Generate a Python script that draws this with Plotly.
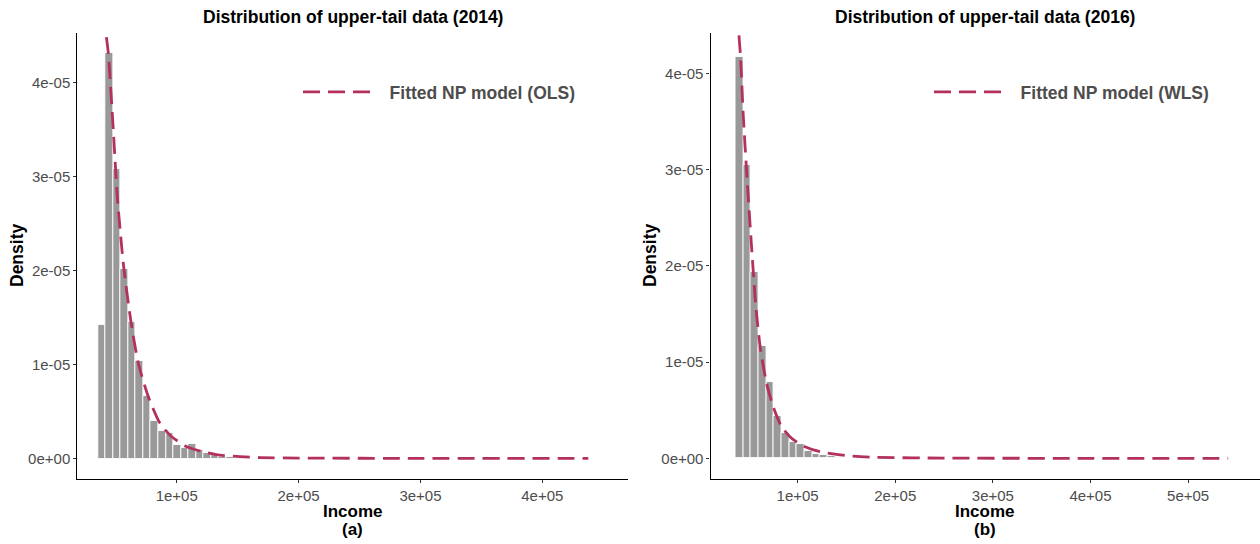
import plotly.graph_objects as go

# ---------------- data ----------------
# 2014 histogram (density, x1e-5), bins of equal width
bin_start_2014 = 35300
bin_width_2014 = 6200
dens_2014 = [1.424, 4.32, 3.078, 2.02, 1.456, 1.038, 0.665, 0.402, 0.293, 0.268,
             0.141, 0.109, 0.158, 0.087, 0.055, 0.040, 0.018, 0.012, 0.008, 0.005]

# 2016 histogram
bin_start_2016 = 36410
bin_width_2016 = 7840
dens_2016 = [4.166, 3.048, 1.934, 1.168, 0.798, 0.441, 0.268, 0.171, 0.151, 0.081,
             0.050, 0.039, 0.029, 0.015, 0.010, 0.006]

# fitted NP model curves
fit_x_2014 = [41300, 41990, 43870, 47980, 51260, 56180, 62250, 68490, 76700, 86300,
              95900, 108200, 121800, 135500, 151900, 168300, 200000, 300000, 437740]
fit_y_2014 = [4.75, 4.526, 4.319, 3.497, 2.787, 2.078, 1.475, 1.014, 0.658, 0.375,
              0.232, 0.126, 0.072, 0.037, 0.020, 0.010, 0.005, 0.0015, 0.0005]

fit_x_2016 = [39300, 39790, 41540, 44200, 48310, 52820, 57230, 62050, 68210, 74970,
              83590, 93850, 105700, 122900, 150300, 181000, 250000, 400000, 541030]
fit_y_2016 = [4.65, 4.415, 4.172, 3.585, 2.892, 2.199, 1.576, 1.127, 0.781, 0.538,
              0.330, 0.210, 0.130, 0.071, 0.029, 0.012, 0.004, 0.0015, 0.0005]

y_ticks = [0, 1e-5, 2e-5, 3e-5, 4e-5]
y_ticktext = ["0e+00", "1e-05", "2e-05", "3e-05", "4e-05"]
x_ticks_2014 = [1e5, 2e5, 3e5, 4e5]
x_ticktext_2014 = ["1e+05", "2e+05", "3e+05", "4e+05"]
x_ticks_2016 = [1e5, 2e5, 3e5, 4e5, 5e5]
x_ticktext_2016 = ["1e+05", "2e+05", "3e+05", "4e+05", "5e+05"]

# ---------------- styles ----------------
BAR = "#999999"
LINE = "#B3305F"
FONT = "Liberation Sans"
W, H = 1260, 544
NBSP = "\u00a0\u00a0\u00a0"


def centers(start, width, n):
    return [start + width * (i + 0.5) for i in range(n)]


fig = go.Figure()

fig.add_trace(go.Bar(
    x=centers(bin_start_2014, bin_width_2014, len(dens_2014)),
    y=[v * 1e-5 for v in dens_2014], width=bin_width_2014,
    marker=dict(color=BAR, line=dict(color="white", width=0.9)),
    showlegend=False, xaxis="x", yaxis="y"))
fig.add_trace(go.Scatter(
    x=fit_x_2014, y=[v * 1e-5 for v in fit_y_2014], mode="lines",
    line=dict(color=LINE, width=2.8, dash="17px,8px", shape="spline", smoothing=0.6),
    name=NBSP + "Fitted NP model (OLS)", legend="legend", xaxis="x", yaxis="y"))

fig.add_trace(go.Bar(
    x=centers(bin_start_2016, bin_width_2016, len(dens_2016)),
    y=[v * 1e-5 for v in dens_2016], width=bin_width_2016,
    marker=dict(color=BAR, line=dict(color="white", width=0.9)),
    showlegend=False, xaxis="x2", yaxis="y2"))
fig.add_trace(go.Scatter(
    x=fit_x_2016, y=[v * 1e-5 for v in fit_y_2016], mode="lines",
    line=dict(color=LINE, width=2.8, dash="17px,8px", shape="spline", smoothing=0.6),
    name=NBSP + "Fitted NP model (WLS)", legend="legend2", xaxis="x2", yaxis="y2"))


def px_x(p):
    return p / W


def px_y(p):
    return 1 - p / H


axis_common = dict(showline=True, linecolor="black", linewidth=1.1, mirror=False,
                   showgrid=False, zeroline=False, ticks="outside", ticklen=3,
                   tickcolor="#333333", tickwidth=1,
                   tickfont=dict(family=FONT, size=15, color="#4D4D4D"))

ydom = [px_y(479), px_y(33)]
legend_font = dict(family=FONT, size=17.5, color="#4D4D4D", weight="bold")

fig.update_layout(
    width=W, height=H, margin=dict(l=0, r=0, t=0, b=0),
    paper_bgcolor="white", plot_bgcolor="white", bargap=0,
    xaxis=dict(domain=[px_x(77.3), px_x(627.7)], range=[18440, 470060],
               tickvals=x_ticks_2014, ticktext=x_ticktext_2014, anchor="y", **axis_common),
    yaxis=dict(domain=ydom, range=[-0.218e-5, 4.529e-5],
               tickvals=y_ticks, ticktext=y_ticktext, anchor="x", **axis_common),
    xaxis2=dict(domain=[px_x(710.5), px_x(1259.5)], range=[10770, 573130],
                tickvals=x_ticks_2016, ticktext=x_ticktext_2016, anchor="y2", **axis_common),
    yaxis2=dict(domain=ydom, range=[-0.213e-5, 4.418e-5],
                tickvals=y_ticks, ticktext=y_ticktext, anchor="x2", **axis_common),
    legend=dict(x=px_x(298), y=px_y(92), xanchor="left", yanchor="middle",
                bgcolor="rgba(0,0,0,0)", itemwidth=67, font=legend_font),
    legend2=dict(x=px_x(929), y=px_y(92), xanchor="left", yanchor="middle",
                 bgcolor="rgba(0,0,0,0)", itemwidth=67, font=legend_font),
)

title_font = dict(family=FONT, size=17.5, color="black", weight="bold")
axis_title_font = dict(family=FONT, size=17, color="black", weight="bold")
ann = []
for cx, title, sub in [((77.3 + 627.7) / 2, "Distribution of upper-tail data (2014)", "(a)"),
                       ((710.5 + 1259.5) / 2, "Distribution of upper-tail data (2016)", "(b)")]:
    ann.append(dict(x=px_x(cx), y=px_y(17), xref="paper", yref="paper", text=title,
                    showarrow=False, font=title_font, xanchor="center", yanchor="middle"))
    ann.append(dict(x=px_x(cx), y=px_y(511), xref="paper", yref="paper", text="Income",
                    showarrow=False, font=axis_title_font, xanchor="center", yanchor="middle"))
    ann.append(dict(x=px_x(cx), y=px_y(529), xref="paper", yref="paper", text=sub,
                    showarrow=False, font=axis_title_font, xanchor="center", yanchor="middle"))
for cx in [17, 650]:
    ann.append(dict(x=px_x(cx), y=px_y(256), xref="paper", yref="paper", text="Density",
                    showarrow=False, textangle=-90, font=dict(axis_title_font, size=17.5),
                    xanchor="center", yanchor="middle"))
fig.update_layout(annotations=ann)

fig.write_html("out.html", config={"displayModeBar": False},
               post_script="document.body.style.margin='0';document.body.style.padding='0';")
